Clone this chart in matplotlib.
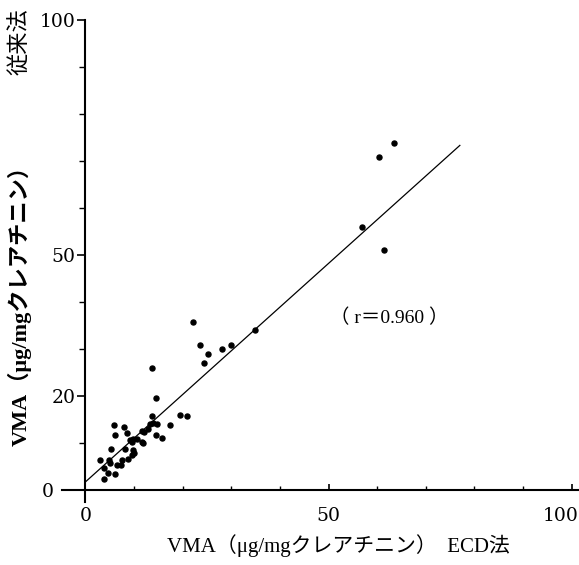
import matplotlib
matplotlib.use("Agg")
import matplotlib.pyplot as plt
import matplotlib.transforms as mtransforms
import numpy as np

# ECD method (x) vs conventional method (y), VMA ug/mg creatinine
ecd = [63.4, 60.3, 56.8, 61.5, 34.8,
       22.2, 23.5, 28.0, 30.0, 25.3, 24.3,
       13.8, 14.6, 19.5, 20.8, 13.8, 17.5,
       5.8, 8.0, 13.2, 14.0, 14.8,
       6.2, 8.6, 11.7, 12.1, 12.8,
       9.1, 9.5, 9.7, 10.7, 11.7, 11.9,
       14.6, 15.8,
       5.3, 8.2, 9.7,
       3.1, 4.9, 5.0, 7.6, 8.8, 9.5, 10.1,
       6.6, 7.4,
       3.9, 4.7, 6.0, 3.9]
conv = [73.8, 70.9, 56.0, 51.1, 34.0,
        35.7, 30.9, 30.0, 30.9, 28.9, 27.0,
        26.0, 19.6, 16.0, 15.7, 15.7, 13.8,
        13.8, 13.4, 14.0, 14.2, 14.0,
        11.7, 12.1, 12.6, 12.4, 13.0,
        10.6, 10.2, 10.8, 10.9, 10.2, 10.0,
        11.7, 11.1,
        8.7, 8.7, 8.5,
        6.4, 6.4, 5.8, 6.4, 6.6, 7.4, 7.9,
        5.3, 5.3,
        4.7, 3.6, 3.4, 2.3]
fit_x = [0, 77]
fit_slope, fit_icpt = 0.93, 1.7
r_label = "（ r＝0.960 ）"

FAM = ["Liberation Serif", "Noto Sans CJK JP"]
NUM = ["DejaVu Serif"]

fig = plt.figure(figsize=(5.79, 5.65), dpi=100)
ax = fig.add_axes([62 / 579, 0.112, 1 - 62 / 579, 0.8527])
ax.set_xlim(-4.8, 101.5)
ax.set_ylim(-2.5, 100)

ax.scatter(ecd, conv, s=13, color="black", zorder=3)
fx = np.array(fit_x)
ax.plot(fx, fit_slope * fx + fit_icpt, color="black", lw=0.9)

ax.text(62.5, 36.6, r_label, ha="center", va="center", fontsize=14, family=FAM)

for s in ["top", "right"]:
    ax.spines[s].set_visible(False)
ax.spines["left"].set_position(("data", 0))
ax.spines["bottom"].set_position(("data", 0))
ax.spines["left"].set_linewidth(1.5)
ax.spines["bottom"].set_linewidth(1.5)

ax.set_yticks([0, 20, 50, 100])
ax.set_yticks([10, 30, 40, 60, 70, 80, 90], minor=True)
ax.set_xticks([0, 50, 100])
ax.set_xticks([10, 20, 30, 40, 60, 70, 80, 90], minor=True)
ax.tick_params(axis="y", which="major", direction="out", length=6, width=1.2, pad=1)
ax.tick_params(axis="y", which="minor", direction="out", length=4, width=1)
ax.tick_params(axis="x", which="major", direction="in", length=4, width=1.2, pad=12)
ax.tick_params(axis="x", which="minor", direction="in", length=3, width=1)
for lbl in ax.get_xticklabels() + ax.get_yticklabels():
    lbl.set_family(NUM)
    lbl.set_fontsize(13.5)

# "0" on the y axis sits left of the extended x axis line
ylabels = ax.get_yticklabels()
ylabels[0].set_transform(ylabels[0].get_transform() +
                         mtransforms.ScaledTranslation(-16 / 72, 0, fig.dpi_scale_trans))
xlabels = ax.get_xticklabels()
xlabels[-1].set_horizontalalignment("right")
xlabels[-1].set_transform(xlabels[-1].get_transform() +
                          mtransforms.ScaledTranslation(5 / 72, 0, fig.dpi_scale_trans))

fig.text(338 / 579, 1 - 546 / 565, "VMA（μg/mgクレアチニン）  ECD法",
         ha="center", va="center", fontsize=15, family=FAM)
fig.text(20 / 579, 1 - 300 / 565, "VMA（μg/mgクレアチニン）",
         ha="center", va="center", rotation=90, fontsize=16, family=FAM,
         fontweight="bold")
fig.text(20 / 579, 1 - 42 / 565, "従来法",
         ha="center", va="center", rotation=90, fontsize=16, family=FAM)

fig.savefig("out.png", dpi=100)
